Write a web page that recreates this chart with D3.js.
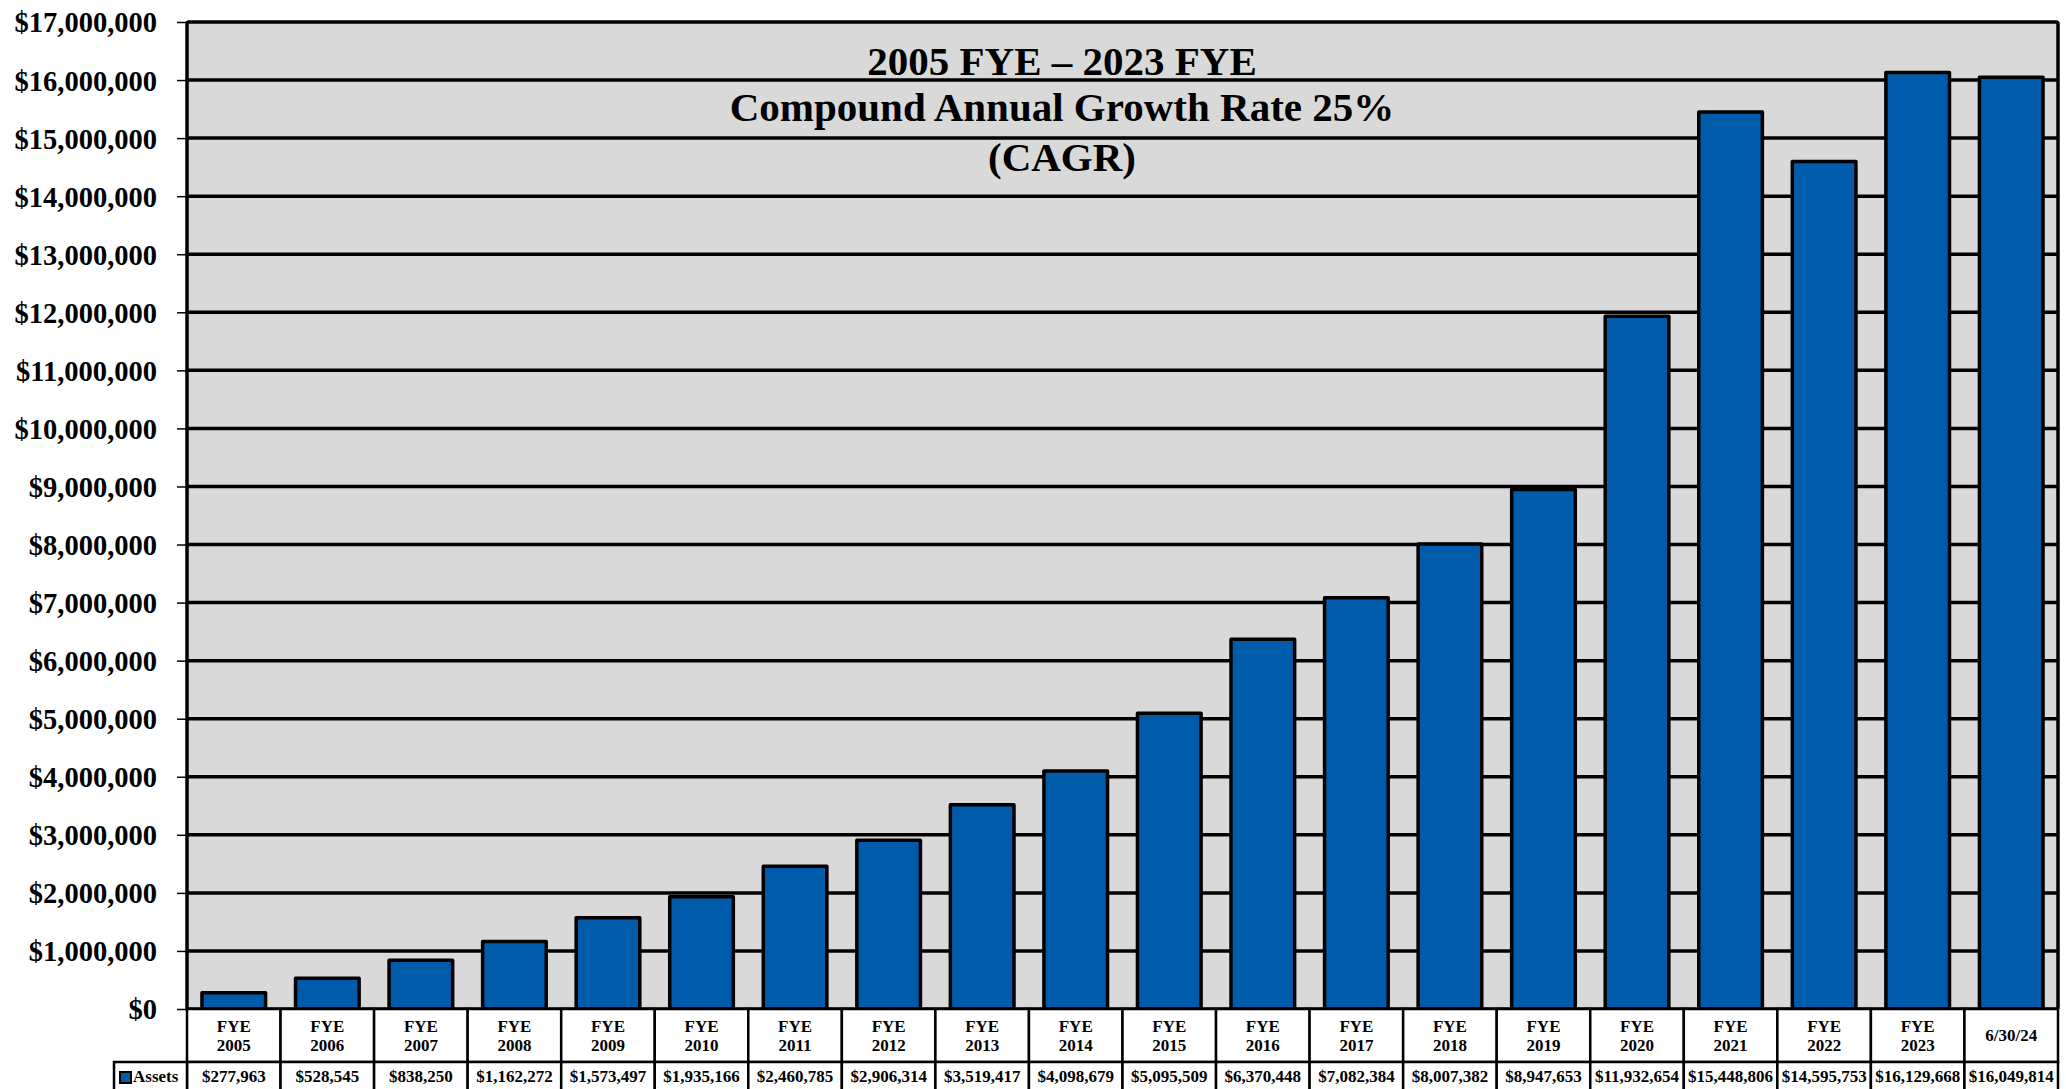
<!DOCTYPE html>
<html>
<head>
<meta charset="utf-8">
<script src="https://cdn.jsdelivr.net/npm/d3@7"></script>
<style>
html,body{margin:0;padding:0;background:#fff;}
svg{display:block;}
text{font-family:"Liberation Serif","Times New Roman",serif;font-weight:bold;fill:#000;}
</style>
</head>
<body>
<svg id="chart" width="2066" height="1089"></svg>
<script>
const categoriesLine1 = ["FYE","FYE","FYE","FYE","FYE","FYE","FYE","FYE","FYE","FYE","FYE","FYE","FYE","FYE","FYE","FYE","FYE","FYE","FYE","6/30/24"];
const categoriesLine2 = ["2005","2006","2007","2008","2009","2010","2011","2012","2013","2014","2015","2016","2017","2018","2019","2020","2021","2022","2023",""];
const assets = [277963,528545,838250,1162272,1573497,1935166,2460785,2906314,3519417,4098679,5095509,6370448,7082384,8007382,8947653,11932654,15448806,14595753,16129668,16049814];
const seriesName = "Assets";
const yTicks = [0,1000000,2000000,3000000,4000000,5000000,6000000,7000000,8000000,9000000,10000000,11000000,12000000,13000000,14000000,15000000,16000000,17000000];
const titleLines = ["2005 FYE \u2013 2023 FYE","Compound Annual Growth Rate 25%","(CAGR)"];

const svg = d3.select("#chart");
const L = 187, R = 2058, T = 22, B = 1009;
const row1B = 1062, row2B = 1100, legendL = 114;
const ids = assets.map((d,i)=>i);

const y = d3.scaleLinear().domain([0,17000000]).range([B,T]);
const xCol = d3.scaleBand().domain(ids).range([L,R]).padding(0);
const xBar = d3.scaleBand().domain(ids).range([L,R]).paddingInner(0.32).paddingOuter(0.16);
const fmt = d3.format("$,.0f");

// plot background
svg.append("rect").attr("x",L).attr("y",T).attr("width",R-L).attr("height",B-T)
  .attr("fill","#d9d9d9");

// gridlines
svg.append("g").selectAll("line").data(yTicks.filter(t=>t>0 && t<17000000)).join("line")
  .attr("x1",L).attr("x2",R).attr("y1",d=>y(d)).attr("y2",d=>y(d))
  .attr("stroke","#000").attr("stroke-width",3.5);

// title
svg.append("g").selectAll("text").data(titleLines).join("text")
  .attr("x",1062).attr("y",(d,i)=>[75,121,171][i])
  .attr("text-anchor","middle").attr("font-size",41).text(d=>d);

// bars
svg.append("g").selectAll("rect").data(assets).join("rect")
  .attr("x",(d,i)=>xBar(i)).attr("width",xBar.bandwidth())
  .attr("y",d=>y(d)).attr("height",d=>B-y(d))
  .attr("fill","#005BAA").attr("stroke","#000").attr("stroke-width",3.5)
  .attr("stroke-linejoin","round");

// plot border
svg.append("rect").attr("x",L).attr("y",T).attr("width",R-L).attr("height",B-T)
  .attr("fill","none").attr("stroke","#000").attr("stroke-width",3.5).attr("rx",2);

// y axis
const yAxis = d3.axisLeft(y).tickValues(yTicks).tickFormat(fmt).tickSize(10).tickPadding(20);
const ga = svg.append("g").attr("transform",`translate(${L},0)`).call(yAxis);
ga.select(".domain").remove();
ga.selectAll(".tick line").attr("stroke","#000").attr("stroke-width",1.5);
ga.selectAll(".tick text").attr("font-size",28.5).attr("dy","0.35em")
  .attr("font-family","'Liberation Serif','Times New Roman',serif").attr("font-weight","bold").attr("fill","#000");

// data table
const tbl = svg.append("g");
tbl.selectAll("rect.cat").data(ids).join("rect").attr("class","cat")
  .attr("x",i=>xCol(i)).attr("y",B).attr("width",xCol.bandwidth()).attr("height",row1B-B)
  .attr("fill","#fff").attr("stroke","#000").attr("stroke-width",2.5);
tbl.selectAll("rect.val").data(ids).join("rect").attr("class","val")
  .attr("x",i=>xCol(i)).attr("y",row1B).attr("width",xCol.bandwidth()).attr("height",row2B-row1B)
  .attr("fill","#fff").attr("stroke","#000").attr("stroke-width",2.5);
tbl.append("rect").attr("x",legendL).attr("y",row1B).attr("width",L-legendL).attr("height",row2B-row1B)
  .attr("fill","#fff").attr("stroke","#000").attr("stroke-width",2.5);
tbl.append("rect").attr("x",120).attr("y",1072).attr("width",11).attr("height",11)
  .attr("fill","#005BAA").attr("stroke","#000").attr("stroke-width",2);
tbl.append("text").attr("x",133).attr("y",1082).attr("font-size",17).text(seriesName);

tbl.selectAll("text.c1").data(ids).join("text").attr("class","c1")
  .attr("x",i=>xCol(i)+xCol.bandwidth()/2)
  .attr("y",i=>categoriesLine2[i]==="" ? 1041 : 1032)
  .attr("text-anchor","middle").attr("font-size",17).text(i=>categoriesLine1[i]);
tbl.selectAll("text.c2").data(ids).join("text").attr("class","c2")
  .attr("x",i=>xCol(i)+xCol.bandwidth()/2).attr("y",1051)
  .attr("text-anchor","middle").attr("font-size",17).text(i=>categoriesLine2[i]);
tbl.selectAll("text.v").data(assets).join("text").attr("class","v")
  .attr("x",(d,i)=>xCol(i)+xCol.bandwidth()/2).attr("y",1082)
  .attr("text-anchor","middle").attr("font-size",17).text(d=>fmt(d));
</script>
</body>
</html>
